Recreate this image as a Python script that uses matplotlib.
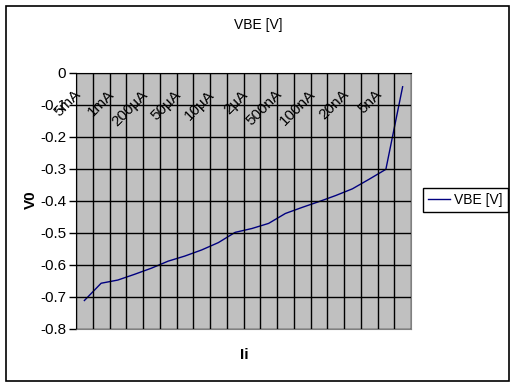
import numpy as np
import matplotlib
matplotlib.use('Agg')
import matplotlib.pyplot as plt
from matplotlib.patches import Rectangle

plt.rcParams['font.family'] = ['Liberation Sans', 'DejaVu Sans']

# input current steps (categories) and measured VBE
currents = ['5mA', '2mA', '1mA', '500µA', '200µA', '100µA', '50µA', '20µA',
            '10µA', '5µA', '2µA', '1µA', '500nA', '200nA', '100nA', '50nA',
            '20nA', '10nA', '5nA', '2nA']
vbe = [-0.711, -0.657, -0.647, -0.629, -0.610, -0.588, -0.572, -0.553,
       -0.530, -0.498, -0.486, -0.470, -0.439, -0.420, -0.402, -0.383,
       -0.362, -0.332, -0.301, -0.043]
yticks = [0, -0.1, -0.2, -0.3, -0.4, -0.5, -0.6, -0.7, -0.8]
ytick_labels = ['0', '-0.1', '-0.2', '-0.3', '-0.4', '-0.5', '-0.6', '-0.7', '-0.8']

W, H = 516, 388
fig = plt.figure(figsize=(W/100, H/100), dpi=100)
fig.patch.set_facecolor('white')

# outer chart border
fig.patches.append(Rectangle((6/W, 1 - 381/H), 503/W, 375/H, transform=fig.transFigure,
                             fill=False, edgecolor='black', linewidth=1.2))

ax = fig.add_axes([76/W, 1 - 329/H, 335/W, 256/H])
ax.set_facecolor('#c0c0c0')

x = np.arange(len(currents))
ax.plot(x, vbe, color='#000080', linewidth=1, label='VBE [V]')

ax.set_xlim(-0.5, len(currents) - 0.5)
ax.set_ylim(-0.8, 0)

ax.set_yticks(yticks)
ax.set_yticklabels(ytick_labels, fontsize=11)
ax.set_xticks(np.arange(-0.5, len(currents), 1))
ax.set_xticklabels([])
ax.tick_params(axis='x', length=0)
ax.tick_params(axis='y', length=5, width=1, direction='out', pad=2)
ax.grid(True, color='black', linewidth=1)
ax.set_axisbelow(False)

for side in ['right', 'bottom']:
    ax.spines[side].set_color('#808080')
ax.spines['left'].set_color('black')
ax.spines['top'].set_color('black')

# category labels every second step, rotated, just under the zero line
for i in range(0, len(currents), 2):
    ax.text(i - 0.05, -0.045, currents[i], rotation=45, ha='right', va='top',
            fontsize=11, rotation_mode='default')

fig.text(258/W, 1 - 25/H, 'VBE [V]', ha='center', va='center', fontsize=10)
fig.text(31/W, 1 - 200/H, 'V0', ha='center', va='center', rotation=90,
         fontsize=11, fontweight='bold')
fig.text(244/W, 1 - 355/H, 'Ii', ha='center', va='center', fontsize=11,
         fontweight='bold')

leg = ax.legend(loc='center left', bbox_to_anchor=(423/W, 1 - 200/H),
                bbox_transform=fig.transFigure, fontsize=10, fancybox=False,
                framealpha=1, edgecolor='black', handlelength=1.6,
                handletextpad=0.3, borderpad=0.35, borderaxespad=0)
leg.get_frame().set_linewidth(1)

fig.savefig('out.png', dpi=100)
